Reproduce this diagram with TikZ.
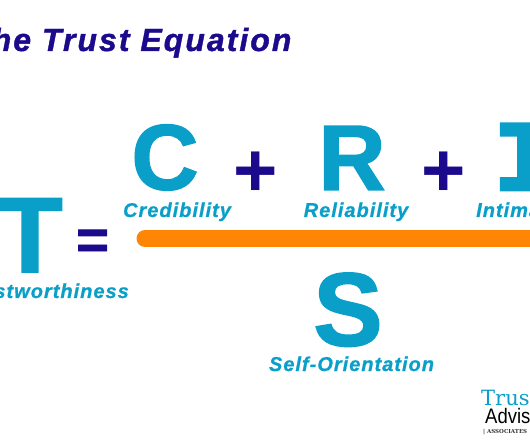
\documentclass[tikz,border=0pt]{standalone}
\usepackage{fontspec}
\usepackage{xcolor}
\setmainfont{Liberation Sans}
\newfontfamily\spacedfont[LetterSpace=6.3,FakeBold=1.2]{Liberation Sans}
\newfontfamily\labelfont[LetterSpace=5,FakeBold=0.8]{Liberation Sans}
\newfontfamily\heavyfont[FakeBold=1.6]{Liberation Sans}
\newfontfamily\monofont[FakeBold=3,FakeStretch=1.3]{DejaVu Sans Mono}
\newfontfamily\logofont{DejaVu Serif}
\newfontfamily\narrowfont[FakeStretch=0.88]{Liberation Sans}
\definecolor{navyblue}{HTML}{1B0A8C}
\definecolor{tealblue}{HTML}{0A9FC9}
\definecolor{barorange}{HTML}{FF8505}
\usetikzlibrary{positioning}

\begin{document}
\begin{tikzpicture}[
    x=1pt, y=-1pt,
    title/.style={inner sep=0pt, text=navyblue, font=\spacedfont\fontsize{32}{32}\selectfont\bfseries\itshape},
    letter/.style={inner sep=0pt, text=tealblue, font=\heavyfont\fontsize{93}{93}\selectfont\bfseries},
    sign/.style={inner sep=0pt, text=navyblue, font=\fontsize{76}{76}\selectfont\bfseries},
    word/.style={inner sep=0pt, text=tealblue, font=\labelfont\fontsize{20}{20}\selectfont\bfseries\itshape},
    bar/.style={line width=17pt, line cap=round, draw=barorange}
]
    \useasboundingbox (0,0) rectangle (530,443);
    \clip (0,0) rectangle (530,443);

    % Title
    \node (title) [title, anchor=base west] at (-30,51) {The Trust Equation};

    % Numerator
    \node (cred_letter) [letter, anchor=base] at (165,189.5) {C};
    \node (rel_letter) [letter, anchor=base] at (352,190) {R};
    \node (int_letter) [letter, anchor=base, font=\monofont\fontsize{91}{91}\selectfont\bfseries] at (527,190) {I};
    \node (plus_one) [sign, anchor=base] at (256,196.5) {+};
    \node (plus_two) [sign, anchor=base] at (444,196.5) {+};

    % Labels
    \node (cred_word) [word, anchor=base] at (177,217) {Credibility};
    \node (rel_word) [word, anchor=base] at (356,217) {Reliability};
    \node (int_word) [word, anchor=base west] at (476,217) {Intimacy};

    % Left side
    \node (trust_letter) [letter, anchor=base, font=\heavyfont\fontsize{107}{107}\selectfont\bfseries] at (30,272) {T};
    \node (equals) [sign, anchor=base, font=\heavyfont\fontsize{56}{56}\selectfont\bfseries] at (92.5,259) {=};
    \node (trust_word) [word, anchor=base east] at (129,298) {Trustworthiness};

    % Denominator
    \coordinate (bar_start) at (145,238.5);
    \coordinate (bar_end) at (560,238.5);
    \draw [bar] (bar_start) -- (bar_end);
    \node (self_letter) [letter, anchor=base, font=\heavyfont\fontsize{104}{104}\selectfont\bfseries] at (348,345.5) {S};
    \node (self_word) [word, anchor=base] at (351.5,371) {Self-Orientation};

    % Logo
    \node (logo_top) [inner sep=0pt, anchor=base west, text=tealblue, font=\logofont\fontsize{21}{21}\selectfont] at (481,405) {Trust};
    \node (logo_mid) [inner sep=0pt, anchor=base west, text=black, font=\narrowfont\fontsize{21}{21}\selectfont] at (485,423) {Advisor};
    \node (logo_low) [inner sep=0pt, anchor=base west, text=black!80, font=\logofont\fontsize{5.5}{5.5}\selectfont\bfseries] at (483,433) {| ASSOCIATES};
\end{tikzpicture}
\end{document}
